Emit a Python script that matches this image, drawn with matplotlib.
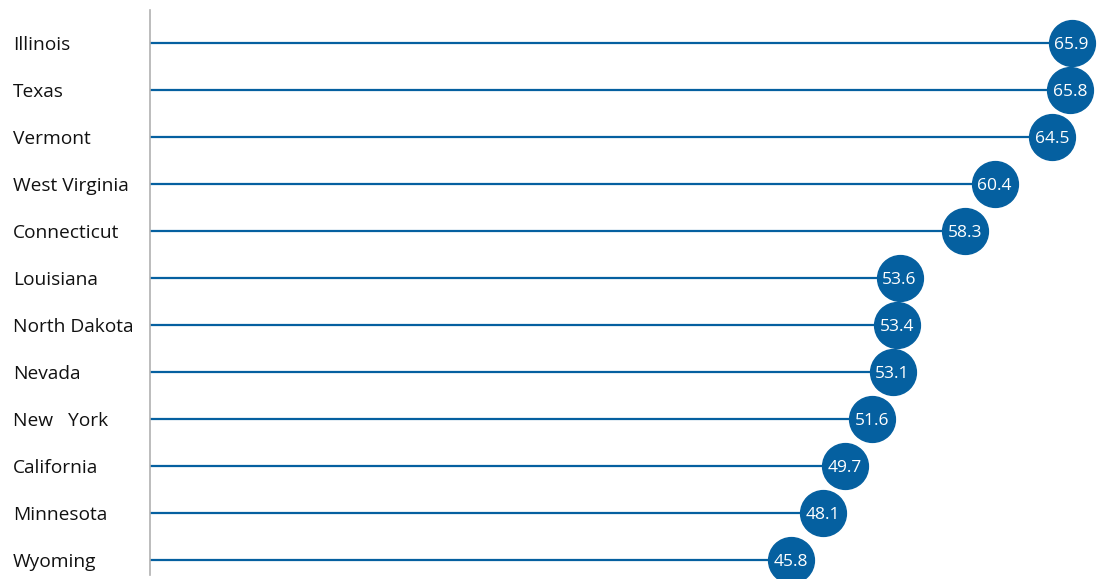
import matplotlib.pyplot as plt
from matplotlib.transforms import blended_transform_factory

states = ["Illinois", "Texas", "Vermont", "West Virginia", "Connecticut", "Louisiana",
          "North Dakota", "Nevada", "New   York", "California", "Minnesota", "Wyoming"]
values = [65.9, 65.8, 64.5, 60.4, 58.3, 53.6, 53.4, 53.1, 51.6, 49.7, 48.1, 45.8]

blue = "#0560a0"
plt.rcParams['font.family'] = ['Open Sans', 'DejaVu Sans']

fig = plt.figure(figsize=(11.01, 5.79), dpi=100)
ax = fig.add_axes([150 / 1101, 4 / 579, 951 / 1101, 565 / 579])

ypos = list(range(len(states)))
ax.hlines(ypos, 0, values, color=blue, lw=1.6, zorder=2)
ax.scatter(values, ypos, s=33 ** 2, color=blue, zorder=3, clip_on=False)
for v, y in zip(values, ypos):
    ax.text(v, y, f"{v:.1f}", color="white", ha="center", va="center_baseline",
            fontsize=12.5, zorder=4)

trans = blended_transform_factory(fig.transFigure, ax.transData)
for s, y in zip(states, ypos):
    ax.text(13 / 1101, y, s, transform=trans, ha="left", va="center_baseline",
            fontsize=13.8, color="#111111")

ax.set_xlim(0, 68)
ax.set_ylim(11 + 15 / 47, -33 / 47)
for sp in ["top", "right", "bottom"]:
    ax.spines[sp].set_visible(False)
ax.spines["left"].set_color("#b0b0b0")
ax.spines["left"].set_linewidth(1.2)
ax.set_xticks([])
ax.set_yticks([])

fig.savefig("out.png", dpi=100)
